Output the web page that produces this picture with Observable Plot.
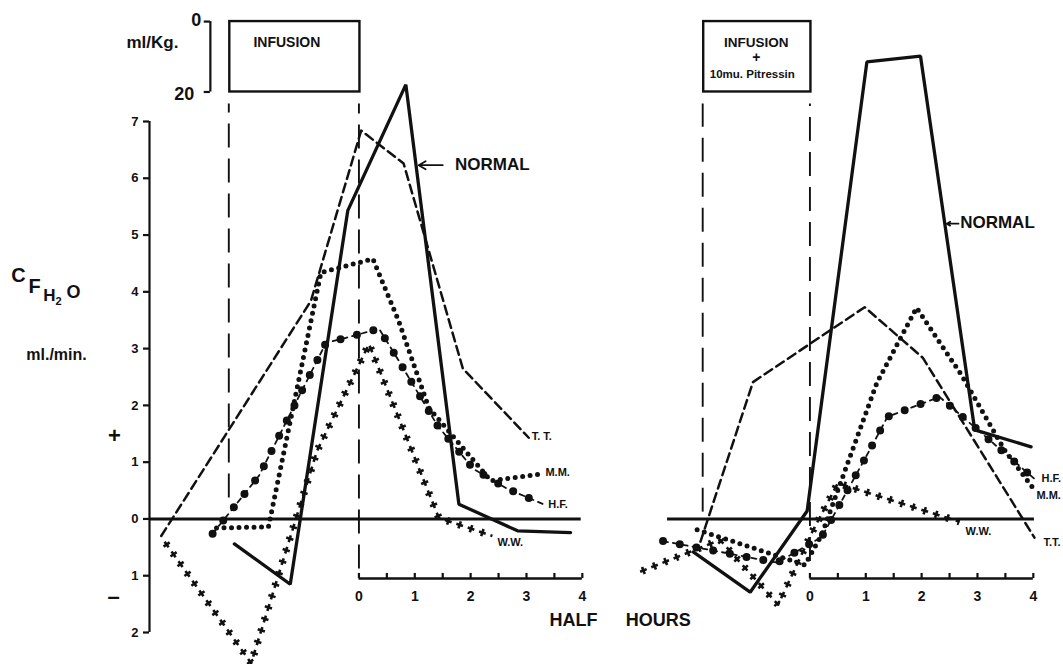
<!DOCTYPE html>
<html>
<head>
<meta charset="utf-8">
<script src="https://cdn.jsdelivr.net/npm/d3@7"></script>
<script src="https://cdn.jsdelivr.net/npm/@observablehq/plot@0.6"></script>
<style>
  html, body { margin: 0; padding: 0; background: #fff; }
  #chart { width: 1063px; height: 664px; }
  #chart svg text { font-weight: bold; }
</style>
</head>
<body>
<div id="chart"></div>
<script>
// ---------- DATA ----------
// x: time in half hours (0 = end of infusion), y: free water clearance CH2O, ml/min
const panels = ["A", "B"]; // A: infusion, B: infusion + 10mu. Pitressin

// Panel A – infusion
const aNormalT = [-2.23, -1.23, -0.2, 0.84, 1.79, 2.84, 3.79];
const aNormalV = [-0.44, -1.15, 5.43, 7.65, 0.26, -0.21, -0.24];
const aTTT = [-3.54, -0.86, 0.04, 0.8, 1.86, 3.04];
const aTTV = [-0.3, 3.84, 6.84, 6.26, 2.65, 1.43];
const aMMT = [-2.55, -1.62, -0.68, 0.25, 0.71, 1.25, 1.95, 2.36, 3.25];
const aMMV = [-0.16, -0.14, 4.34, 4.58, 3.49, 1.96, 1.15, 0.67, 0.79];
const aHFT = [-2.62, -1.79, -0.59, -0.23, 0.36, 0.71, 1.41, 2.05, 2.66, 3.30];
const aHFV = [-0.26, 0.76, 3.10, 3.19, 3.35, 2.79, 1.64, 0.88, 0.53, 0.26];
const aWWT = [-3.48, -1.93, -0.75, 0.18, 1.43, 2.39];
const aWWV = [-0.4, -2.54, 1.2, 3.08, 0.02, -0.3];

// Panel B – infusion + 10 mu. Pitressin
const bNormalT = [-2.09, -1.07, -0.05, 1.02, 1.98, 2.95, 3.96];
const bNormalV = [-0.58, -1.29, 0.14, 8.05, 8.15, 1.57, 1.27];
const bTTT = [-1.96, -1.02, 0.98, 2.02, 4.02];
const bTTV = [-0.4, 2.41, 3.73, 2.84, -0.33];
const bMMT = [-2.02, -0.09, 0.21, 1.2, 1.91, 2.71, 3.48, 4.02];
const bMMV = [-0.19, -0.81, -0.28, 2.4, 3.72, 2.54, 1.22, 0.51];
const bHFT = [-2.63, -0.59, 0.21, 1.04, 1.39, 2.32, 4.04];
const bHFV = [-0.39, -0.77, -0.32, 1.16, 1.8, 2.15, 0.69];
const bWWT = [-3.04, -1.61, -0.57, 0.04, 0.5, 2.68];
const bWWV = [-0.93, -0.37, -1.51, -0.23, 0.63, -0.05];

// infusion periods (half hours) and volume (ml/Kg)
const infusionStart = [-2.33, -1.92];
const infusionEnd = [0, 0];
const infusionVolume = [0, 20];
const infusionText = [["INFUSION"], ["INFUSION", "+", "10mu. Pitressin"]];

// ticks
const yTicks = [-2, -1, 0, 1, 2, 3, 4, 5, 6, 7];
const xTicks = [0, 1, 2, 3, 4];
const xMinorTicks = [0, 0.5, 1, 1.5, 2, 2.5, 3, 3.5, 4];

// series labels
const seriesNames = ["NORMAL", "TT", "MM", "HF", "WW"];
const seriesLabelA = {TT: "T. T.", MM: "M.M.", HF: "H.F.", WW: "W.W."};
const seriesLabelB = {TT: "T.T.", MM: "M.M.", HF: "H.F.", WW: "W.W."};

// ---------- TABLE ----------
const toRows = (panel, name, t, v) => t.map((x, i) => ({panel, name, t: x, v: v[i]}));
const rows = [
  ...toRows("A", "NORMAL", aNormalT, aNormalV),
  ...toRows("A", "TT", aTTT, aTTV),
  ...toRows("A", "MM", aMMT, aMMV),
  ...toRows("A", "HF", aHFT, aHFV),
  ...toRows("A", "WW", aWWT, aWWV),
  ...toRows("B", "NORMAL", bNormalT, bNormalV),
  ...toRows("B", "TT", bTTT, bTTV),
  ...toRows("B", "MM", bMMT, bMMV),
  ...toRows("B", "HF", bHFT, bHFV),
  ...toRows("B", "WW", bWWT, bWWV)
];
const S = name => rows.filter(d => d.name === name);

// ---------- LAYOUT ----------
const F = "'Liberation Sans', Arial, Helvetica, sans-serif";
const INK = "#111";
const xDomain = [-3.75, 4.2];
const volToY = v => 8.76 - v * (1.24 / 20);   // ml/Kg scale drawn above the plot
const xAxisLevel = -1.05;
const infusionRows = panels.map((p, i) => ({panel: p, start: infusionStart[i], end: infusionEnd[i]}));
const zeroRows = [{panel: "A", t1: xDomain[0], t2: 3.98}, {panel: "B", t1: -2.55, t2: 4.02}];
const dashRows = [
  {panel: "A", t: infusionStart[0], bottom: 0.37},
  {panel: "A", t: infusionEnd[0], bottom: -0.88},
  {panel: "B", t: infusionStart[1], bottom: 0.12},
  {panel: "B", t: infusionEnd[1], bottom: -0.75}
];
const minorRows = panels.flatMap(p => xMinorTicks.map(t => ({panel: p, t})));
const majorRows = panels.flatMap(p => xTicks.map(t => ({panel: p, t})));
const volAxisT = infusionStart[0] - 0.33;

const marks = [];

// zero lines
marks.push(Plot.ruleY(zeroRows, {fx: "panel", x1: "t1", x2: "t2", y: () => 0, stroke: INK, strokeWidth: 3}));

// y axis
marks.push(Plot.ruleX([{panel: "A"}], {fx: "panel", x: () => xDomain[0], y1: () => yTicks[0], y2: () => yTicks[yTicks.length - 1], stroke: INK, strokeWidth: 2.2}));
marks.push(Plot.axisY({ticks: yTicks, tickFormat: d => Math.abs(d), tickSize: 6, tickPadding: 5, fontSize: 13, fontWeight: "bold", label: null, stroke: INK, strokeWidth: 2.2}));

// x axes (half hours), drawn below the zero line
marks.push(Plot.ruleY(panels.map(p => ({panel: p})), {fx: "panel", x1: () => xTicks[0], x2: () => xTicks[xTicks.length - 1], y: () => xAxisLevel, stroke: INK, strokeWidth: 2.6}));
marks.push(Plot.ruleX(minorRows, {fx: "panel", x: "t", y1: () => xAxisLevel, y2: () => xAxisLevel + 0.09, stroke: INK, strokeWidth: 2.2}));
marks.push(Plot.text(majorRows, {fx: "panel", x: "t", y: () => xAxisLevel, dy: 18, text: d => String(d.t), fontSize: 14, fontWeight: "bold", fill: INK}));

// infusion boxes and dashed limits
marks.push(Plot.rect(infusionRows, {fx: "panel", x1: "start", x2: "end", y1: () => volToY(infusionVolume[1]), y2: () => volToY(infusionVolume[0]), fill: "none", stroke: INK, strokeWidth: 2.4, dx: 1}));
marks.push(Plot.ruleX(dashRows, {fx: "panel", x: "t", y1: "bottom", y2: () => 7.31, stroke: INK, strokeWidth: 1.9, strokeDasharray: "24,11"}));

// ml/Kg bracket
marks.push(Plot.ruleX([{panel: "A"}], {fx: "panel", x: () => volAxisT, y1: () => volToY(0), y2: () => volToY(20), stroke: INK, strokeWidth: 2.2}));
marks.push(Plot.ruleY(infusionVolume.map(v => ({panel: "A", v})), {fx: "panel", x1: () => volAxisT - 0.11, x2: () => volAxisT, y: d => volToY(d.v), stroke: INK, strokeWidth: 2.2}));
marks.push(Plot.text([{panel: "A", v: infusionVolume[0]}], {fx: "panel", x: () => volAxisT, y: d => volToY(d.v), text: d => String(d.v), dx: -9, dy: -1, textAnchor: "end", fontSize: 18, fontWeight: "bold", fill: INK}));
marks.push(Plot.text([{panel: "A", v: infusionVolume[1]}], {fx: "panel", x: () => volAxisT, y: d => volToY(d.v), text: d => String(d.v), dx: -16, dy: 2, textAnchor: "end", fontSize: 18, fontWeight: "bold", fill: INK}));
marks.push(Plot.text([{panel: "A"}], {fx: "panel", x: () => volAxisT, y: () => volToY(0), text: () => "ml/Kg.", dx: -58, dy: 21, textAnchor: "middle", fontSize: 17, fontWeight: "bold", fill: INK}));

// infusion box captions
infusionText.forEach((lines, i) => {
  const dys = lines.length === 1 ? [21] : [21, 36, 53];
  const sizes = lines.length === 1 ? [14] : [13.5, 14, 11.5];
  const dxs = lines.length === 1 ? [-7] : [0, 0, -4];
  lines.forEach((txt, j) => {
    marks.push(Plot.text([infusionRows[i]], {fx: "panel", x: d => (d.start + d.end) / 2, y: () => volToY(0), text: () => txt, dx: dxs[j], dy: dys[j], textAnchor: "middle", fontSize: sizes[j], fontWeight: "bold", fill: INK}));
  });
});

// ---------- SERIES ----------
// T.T. dashed
marks.push(Plot.line(S("TT"), {fx: "panel", x: "t", y: "v", stroke: INK, strokeWidth: 2.5, strokeDasharray: "9,5"}));
// H.F. dashed with large dots
marks.push(Plot.line(S("HF"), {fx: "panel", x: "t", y: "v", stroke: INK, strokeWidth: 1.8, strokeDasharray: "5,5"}));
marks.push(Plot.line(S("HF"), {fx: "panel", x: "t", y: "v", stroke: INK, strokeWidth: 8, strokeDasharray: "0,17", strokeLinecap: "round"}));
// M.M. small dots
marks.push(Plot.line(S("MM"), {fx: "panel", x: "t", y: "v", stroke: INK, strokeWidth: 5, strokeDasharray: "0,7.5", strokeLinecap: "round"}));
// W.W. crosses
marks.push(Plot.line(S("WW"), {fx: "panel", x: "t", y: "v", stroke: INK, strokeWidth: 2.6, strokeDasharray: "7,5", strokeLinecap: "butt"}));
marks.push(Plot.line(S("WW"), {fx: "panel", x: "t", y: "v", stroke: INK, strokeWidth: 7.5, strokeDasharray: "2.6,9.4", strokeDashoffset: -2.2, strokeLinecap: "butt"}));
// NORMAL solid
marks.push(Plot.line(S("NORMAL"), {fx: "panel", x: "t", y: "v", stroke: INK, strokeWidth: 3.3, strokeLinejoin: "miter"}));

// end-of-series labels
const labelOffsets = [
  {panel: "A", name: "TT", dx: 3, dy: -1}, {panel: "A", name: "MM", dx: 5, dy: -2},
  {panel: "A", name: "HF", dx: 5, dy: 0}, {panel: "A", name: "WW", dx: 5, dy: 6},
  {panel: "B", name: "HF", dx: 6, dy: -1}, {panel: "B", name: "MM", dx: 2, dy: 5},
  {panel: "B", name: "TT", dx: 9, dy: 5}, {panel: "B", name: "WW", dx: 6, dy: 10}
];
labelOffsets.forEach(o => {
  const pts = rows.filter(d => d.panel === o.panel && d.name === o.name);
  const last = pts[pts.length - 1];
  const label = (o.panel === "A" ? seriesLabelA : seriesLabelB)[o.name];
  marks.push(Plot.text([last], {fx: "panel", x: "t", y: "v", text: () => label, dx: o.dx, dy: o.dy, textAnchor: "start", fontSize: 11, fontWeight: "bold", fill: INK}));
});

// NORMAL arrows + labels
const normalNotes = [
  {panel: "A", from: 1.5, to: 1.07, textAt: 1.72, v: 6.23},
  {panel: "B", from: 2.66, to: 2.45, textAt: 2.69, v: 5.2}
];
marks.push(Plot.arrow(normalNotes, {fx: "panel", x1: "from", x2: "to", y1: "v", y2: "v", stroke: INK, strokeWidth: 1.8, headLength: 7}));
marks.push(Plot.text(normalNotes, {fx: "panel", x: "textAt", y: "v", text: () => "NORMAL", textAnchor: "start", fontSize: 17, fontWeight: "bold", fill: INK, dy: -1}));

// HALF HOURS
marks.push(Plot.text([{panel: "A"}], {fx: "panel", x: () => 3.84, y: () => -1.79, text: () => "HALF", textAnchor: "middle", fontSize: 18, fontWeight: "bold", fill: INK}));
marks.push(Plot.text([{panel: "A"}], {fx: "panel", x: () => 5.36, y: () => -1.79, text: () => "HOURS", textAnchor: "middle", fontSize: 18, fontWeight: "bold", fill: INK}));

// y title: CF H2O  ml./min.  + / –
const yTitle = [
  {t: "C", dx: -131, dy: 154, s: 20},
  {t: "F", dx: -115, dy: 165, s: 20},
  {t: "H", dx: -100, dy: 174, s: 17},
  {t: "2", dx: -91, dy: 180, s: 11},
  {t: "O", dx: -76, dy: 171, s: 18},
  {t: "ml./min.", dx: -93, dy: 233, s: 16},
  {t: "+", dx: -35, dy: 314, s: 22},
  {t: "–", dx: -36, dy: 475, s: 22}
];
yTitle.forEach(o => {
  marks.push(Plot.text([{panel: "A"}], {fx: "panel", frameAnchor: "top-left", text: () => o.t, dx: o.dx, dy: o.dy, textAnchor: "middle", lineAnchor: "middle", fontSize: o.s, fontWeight: "bold", fill: INK}));
});

const chart = Plot.plot({
  width: 1063,
  height: 664,
  marginLeft: 148,
  marginRight: 17.8,
  marginTop: 121,
  marginBottom: 32,
  style: {fontFamily: F, fontWeight: "bold", background: "#fff", color: INK, overflow: "visible"},
  fx: {domain: panels, paddingInner: 0.01504, paddingOuter: 0, axis: null},
  x: {domain: xDomain, axis: null},
  y: {domain: [yTicks[0], yTicks[yTicks.length - 1]]},
  marks
});
document.getElementById("chart").appendChild(chart);
</script>
</body>
</html>
